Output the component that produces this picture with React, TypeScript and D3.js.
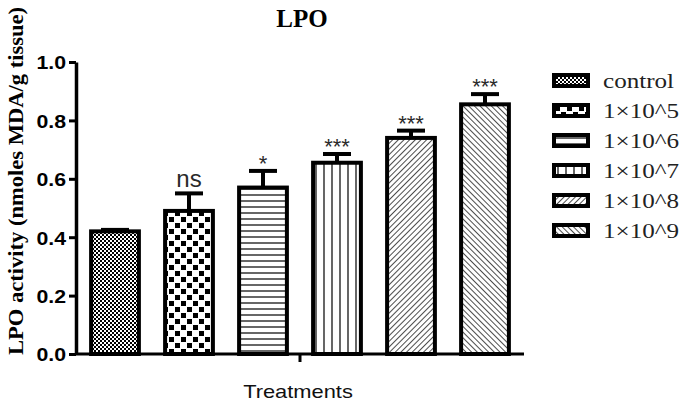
import React, { useEffect, useRef } from 'react';
import * as d3 from 'd3';

const categories = ['control', '1×10^5', '1×10^6', '1×10^7', '1×10^8', '1×10^9'];
const means = [0.42, 0.49, 0.57, 0.655, 0.74, 0.855];
const errors = [0.005, 0.06, 0.057, 0.03, 0.025, 0.035];
const significance = ['', 'ns', '*', '***', '***', '***'];
const yTicks = [0, 0.2, 0.4, 0.6, 0.8, 1.0];
const patternIds = ['pFine', 'pChecker', 'pHoriz', 'pVert', 'pDiagR', 'pDiagL'];

const SANS = 'Arial, "Liberation Sans", sans-serif';
const SERIF = '"Liberation Serif", "Times New Roman", serif';

// the original figure is a bit wider than its fonts, stretch text to match
const stretch = (sel: any, k: number) => {
  sel.each(function (this: SVGTextElement) {
    const len = this.getComputedTextLength();
    d3.select(this).attr('textLength', len * k).attr('lengthAdjust', 'spacingAndGlyphs');
  });
};

const App = () => {
  const svgRef = useRef<SVGSVGElement>(null);

  useEffect(() => {
    const width = 685;
    const height = 410;
    const svg = d3.select(svgRef.current).attr('width', width).attr('height', height);
    svg.selectAll('*').remove();

    // hatch patterns
    const defs = svg.append('defs');
    const fine = defs.append('pattern').attr('id', 'pFine').attr('patternUnits', 'userSpaceOnUse')
      .attr('width', 4).attr('height', 4);
    fine.append('rect').attr('width', 4).attr('height', 4).attr('fill', '#fff');
    fine.append('rect').attr('width', 2).attr('height', 2).attr('fill', '#000');
    fine.append('rect').attr('x', 2).attr('y', 2).attr('width', 2).attr('height', 2).attr('fill', '#000');

    const checker = defs.append('pattern').attr('id', 'pChecker').attr('patternUnits', 'userSpaceOnUse')
      .attr('width', 12).attr('height', 12);
    checker.append('rect').attr('width', 12).attr('height', 12).attr('fill', '#fff');
    checker.append('rect').attr('x', 1).attr('y', 1).attr('width', 5).attr('height', 5).attr('fill', '#000');
    checker.append('rect').attr('x', 7).attr('y', 7).attr('width', 5).attr('height', 5).attr('fill', '#000');

    const horiz = defs.append('pattern').attr('id', 'pHoriz').attr('patternUnits', 'userSpaceOnUse')
      .attr('width', 6).attr('height', 6);
    horiz.append('rect').attr('width', 6).attr('height', 6).attr('fill', '#fff');
    horiz.append('line').attr('x1', 0).attr('x2', 6).attr('y1', 3).attr('y2', 3)
      .attr('stroke', '#000').attr('stroke-width', 1.2);

    const vert = defs.append('pattern').attr('id', 'pVert').attr('patternUnits', 'userSpaceOnUse')
      .attr('width', 8).attr('height', 8);
    vert.append('rect').attr('width', 8).attr('height', 8).attr('fill', '#fff');
    vert.append('line').attr('x1', 4).attr('x2', 4).attr('y1', 0).attr('y2', 8)
      .attr('stroke', '#000').attr('stroke-width', 1.2);

    const diagR = defs.append('pattern').attr('id', 'pDiagR').attr('patternUnits', 'userSpaceOnUse')
      .attr('width', 4).attr('height', 4).attr('patternTransform', 'rotate(45)');
    diagR.append('rect').attr('width', 4).attr('height', 4).attr('fill', '#fff');
    diagR.append('line').attr('x1', 0).attr('x2', 0).attr('y1', 0).attr('y2', 4)
      .attr('stroke', '#000').attr('stroke-width', 1.4);

    const diagL = defs.append('pattern').attr('id', 'pDiagL').attr('patternUnits', 'userSpaceOnUse')
      .attr('width', 4).attr('height', 4).attr('patternTransform', 'rotate(-45)');
    diagL.append('rect').attr('width', 4).attr('height', 4).attr('fill', '#fff');
    diagL.append('line').attr('x1', 0).attr('x2', 0).attr('y1', 0).attr('y2', 4)
      .attr('stroke', '#000').attr('stroke-width', 1.4);

    const x = d3.scaleBand()
      .domain(categories)
      .range([78, 522])
      .paddingInner(0.3)
      .paddingOuter(0.15);

    const y = d3.scaleLinear().domain([0, 1]).range([354, 62]);

    // bars
    svg.append('g')
      .selectAll('rect')
      .data(categories)
      .join('rect')
      .attr('x', d => x(d)! + 2)
      .attr('y', (d, i) => y(means[i]))
      .attr('width', x.bandwidth() - 4)
      .attr('height', (d, i) => y(0) - y(means[i]))
      .attr('fill', (d, i) => `url(#${patternIds[i]})`)
      .attr('stroke', '#000')
      .attr('stroke-width', 4);

    // error bars
    const err = svg.append('g').attr('stroke', '#000').attr('stroke-width', 4);
    categories.forEach((c, i) => {
      const cx = x(c)! + x.bandwidth() / 2;
      err.append('line').attr('x1', cx).attr('x2', cx)
        .attr('y1', y(means[i])).attr('y2', y(means[i] + errors[i]));
      err.append('line').attr('x1', cx - 14).attr('x2', cx + 14)
        .attr('y1', y(means[i] + errors[i])).attr('y2', y(means[i] + errors[i]));
    });

    // significance marks
    svg.append('g')
      .selectAll('text')
      .data(categories)
      .join('text')
      .attr('x', d => x(d)! + x.bandwidth() / 2)
      .attr('y', (d, i) => y(means[i] + errors[i]) - (significance[i] === 'ns' ? 6 : 0))
      .attr('text-anchor', 'middle')
      .attr('font-family', SANS)
      .attr('font-size', (d, i) => (significance[i] === 'ns' ? 24 : 22))
      .attr('fill', '#2a2a2a')
      .text((d, i) => significance[i]);

    // axes
    const yAxis = svg.append('g')
      .attr('transform', 'translate(76,0)')
      .call(d3.axisLeft(y).tickValues(yTicks).tickFormat(d3.format('.1f')).tickSize(7).tickSizeOuter(0));
    yAxis.select('.domain').attr('stroke-width', 3.5);
    yAxis.selectAll('.tick line').attr('stroke-width', 3);
    const tickText = yAxis.selectAll('.tick text')
      .attr('font-family', SANS)
      .attr('font-weight', 'bold')
      .attr('font-size', 19)
      .attr('fill', '#000')
      .attr('dy', '0.36em');
    stretch(tickText, 1.12);

    svg.append('line').attr('x1', 75).attr('x2', 524).attr('y1', 354).attr('y2', 354)
      .attr('stroke', '#000').attr('stroke-width', 3);
    svg.append('line').attr('x1', 300).attr('x2', 300).attr('y1', 354).attr('y2', 362)
      .attr('stroke', '#000').attr('stroke-width', 3);

    // titles
    svg.append('text')
      .attr('x', 302).attr('y', 27)
      .attr('text-anchor', 'middle')
      .attr('font-family', SERIF)
      .attr('font-weight', 'bold')
      .attr('font-size', 25)
      .text('LPO');

    const yLabel = svg.append('text')
      .attr('transform', 'translate(23,181) rotate(-90)')
      .attr('text-anchor', 'middle')
      .attr('font-family', SERIF)
      .attr('font-weight', 'bold')
      .attr('font-size', 21)
      .text('LPO activity (nmoles MDA/g tissue)');
    yLabel.attr('textLength', 348).attr('lengthAdjust', 'spacingAndGlyphs');

    const xLabel = svg.append('text')
      .attr('x', 298).attr('y', 398)
      .attr('text-anchor', 'middle')
      .attr('font-family', SANS)
      .attr('font-size', 19)
      .attr('fill', '#111')
      .text('Treatments');
    stretch(xLabel, 1.15);

    // legend
    const legend = svg.append('g')
      .selectAll('g')
      .data(categories)
      .join('g')
      .attr('transform', (d, i) => `translate(554,${75 + i * 30})`);
    legend.append('rect')
      .attr('width', 34).attr('height', 11)
      .attr('fill', (d, i) => `url(#${patternIds[i]})`)
      .attr('stroke', '#000').attr('stroke-width', 4);
    const legendText = legend.append('text')
      .attr('x', 49).attr('y', 13)
      .attr('font-family', SERIF)
      .attr('font-size', 22)
      .attr('fill', '#222')
      .text(d => d);
    stretch(legendText, 1.14);
  }, []);

  return <svg ref={svgRef} style={{ position: 'absolute', left: 0, top: 0 }}></svg>;
};

export default App;
